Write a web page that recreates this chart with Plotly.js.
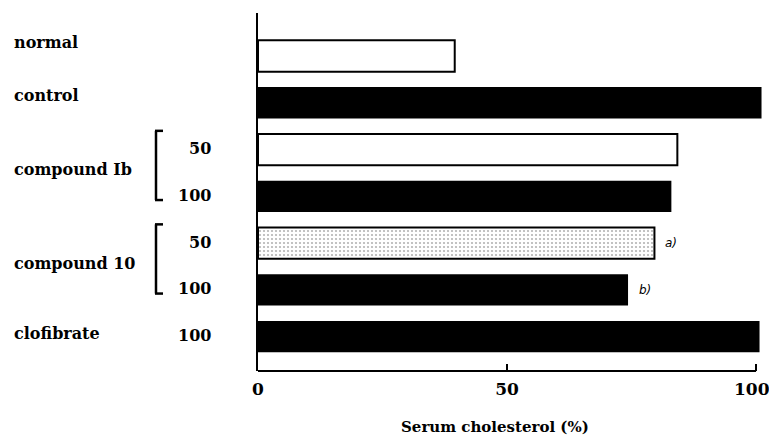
<!DOCTYPE html>
<html>
<head>
<meta charset="utf-8">
<script src="https://cdn.plot.ly/plotly-3.0.1.min.js"></script>
<style>html,body{margin:0;padding:0;background:#fff;}#chart{width:769px;height:439px;}</style>
</head>
<body>
<div id="chart"></div>
<script>
// ---- data ----
const categories = ['normal', 'control', 'compound Ib 50', 'compound Ib 100', 'compound 10 50', 'compound 10 100', 'clofibrate 100'];
const rowGroup = ['normal', 'control', 'compound Ib', 'compound Ib', 'compound 10', 'compound 10', 'clofibrate'];
const doseLabels = ['', '', '50', '100', '50', '100', '100'];
const cholesterol = [39.5, 101.1, 84.2, 83.0, 79.6, 74.3, 100.7];
const significance = ['', '', '', '', 'a)', 'b)', ''];
const openRows = ['normal', 'compound Ib 50'];
const shadedRows = ['compound 10 50'];
const xTickValues = [0, 50, 100];
const xTickText = ['0', '50', '100'];
const xTitle = 'Serum cholesterol (%)';

// ---- build ----
const idx = c => categories.indexOf(c);
const solidRows = categories.filter(c => !openRows.includes(c) && !shadedRows.includes(c));
function barTrace(rows, marker) {
  return {type: 'bar', orientation: 'h', y: rows, x: rows.map(r => cholesterol[idx(r)]),
          marker: marker, hoverinfo: 'skip', showlegend: false};
}
const traces = [
  barTrace(solidRows, {color: '#000', line: {color: '#000', width: 0}}),
  barTrace(openRows, {color: '#fff', line: {color: '#000', width: 2}}),
  barTrace(shadedRows, {color: '#fff', pattern: {shape: '.', fgcolor: '#b4b4b4', bgcolor: '#fff', size: 4, solidity: 0.22}, line: {color: '#000', width: 2}})
];

const serif = 'DejaVu Serif, Liberation Serif, serif';
const labelNudge = {normal: 11, control: 4};   // text offsets (px) of the scanned labels
const annotations = [];
// group labels
const groups = [...new Set(rowGroup)];
groups.forEach(g => {
  const ids = rowGroup.map((r, i) => r === g ? i : -1).filter(i => i >= 0);
  const pos = ids.reduce((a, b) => a + b, 0) / ids.length;
  annotations.push({xref: 'paper', yref: 'y', x: 0, y: pos, xshift: -246, yshift: 3 + (labelNudge[g] || 0),
    xanchor: 'left', yanchor: 'middle', showarrow: false, text: g,
    font: {family: serif, size: 16, color: '#000', weight: 'bold'}});
});
// dose labels
doseLabels.forEach((d, i) => {
  if (!d) return;
  annotations.push({xref: 'paper', yref: 'y', x: 0, y: i, xshift: -45, yshift: 1,
    xanchor: 'right', yanchor: 'middle', showarrow: false, text: d,
    font: {family: serif, size: 16, color: '#000', weight: 'bold'}});
});
// significance marks
significance.forEach((s, i) => {
  if (!s) return;
  annotations.push({xref: 'x', yref: 'y', x: cholesterol[i], y: i, xshift: 9,
    xanchor: 'left', yanchor: 'middle', showarrow: false, text: '<i>' + s + '</i>',
    font: {family: 'DejaVu Sans, sans-serif', size: 12, color: '#000'}});
});
// last tick label: drawn as annotation so it stays inside the page edge
const tickFont = {family: serif, size: 17, color: '#000', weight: 'bold'};
const lastTick = xTickValues.length - 1;
annotations.push({xref: 'x', yref: 'paper', x: xTickValues[lastTick], y: 0, xshift: -4, yshift: -18,
  xanchor: 'center', yanchor: 'middle', showarrow: false, text: xTickText[lastTick], font: tickFont});
// axis title
annotations.push({xref: 'paper', yref: 'paper', x: 0.4675, y: 0, yshift: -56,
  xanchor: 'center', yanchor: 'middle', showarrow: false, text: xTitle,
  font: {family: serif, size: 15, color: '#000', weight: 'bold'}});

const shapes = [];
// x axis line up to the last tick
shapes.push({type: 'line', xref: 'x', yref: 'paper', x0: 0, x1: xTickValues[lastTick], y0: 0, y1: 0,
  line: {color: '#000', width: 2}});
// brackets for dose groups
groups.forEach(g => {
  const ids = rowGroup.map((r, i) => r === g ? i : -1).filter(i => i >= 0);
  if (ids.length < 2) return;
  const top = ids[0] - 0.4, bot = ids[ids.length - 1] + 0.08;
  const base = {type: 'line', xref: 'paper', xsizemode: 'pixel', xanchor: 0, yref: 'y', line: {color: '#000', width: 2.5}};
  shapes.push(Object.assign({}, base, {x0: -102, x1: -102, y0: top, y1: bot}));
  shapes.push(Object.assign({}, base, {x0: -103, x1: -95, y0: top, y1: top}));
  shapes.push(Object.assign({}, base, {x0: -103, x1: -95, y0: bot, y1: bot}));
});

const layout = {
  width: 769, height: 439,
  margin: {l: 258, r: 3, t: 13, b: 68},
  paper_bgcolor: '#fff', plot_bgcolor: '#fff',
  barmode: 'overlay', bargap: 0.33,
  showlegend: false,
  xaxis: {range: [0, 102], tickvals: xTickValues,
    ticktext: xTickText.map((t, i) => i === lastTick ? '' : t),
    ticks: 'inside', ticklen: 7, tickwidth: 2, tickcolor: '#000',
    showline: false, showgrid: false, zeroline: false, ticklabelstandoff: 6,
    tickfont: tickFont},
  yaxis: {type: 'category', categoryorder: 'array', categoryarray: categories,
    range: [6.736, -0.92], showline: true, linewidth: 2, linecolor: '#000',
    showticklabels: false, ticks: '', showgrid: false, zeroline: false},
  annotations: annotations,
  shapes: shapes
};
Plotly.newPlot('chart', traces, layout, {displayModeBar: false, staticPlot: true});
</script>
</body>
</html>
